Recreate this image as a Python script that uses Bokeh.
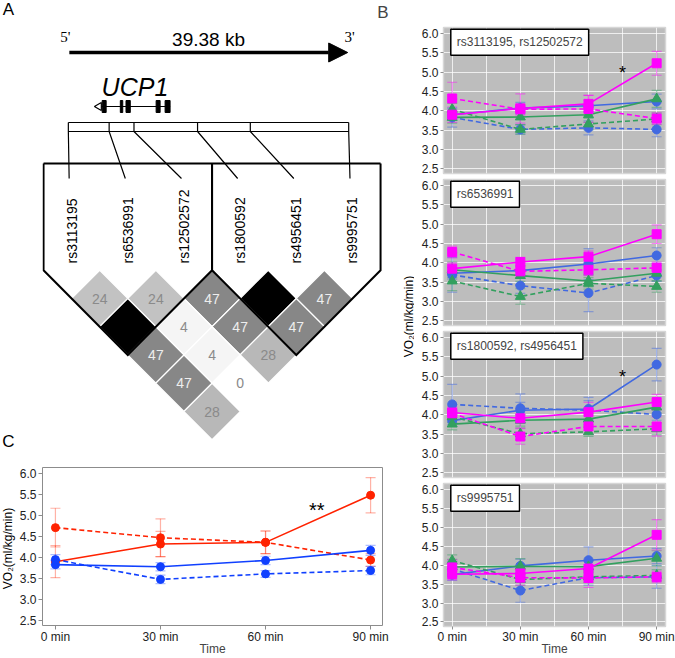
import math
from bokeh.plotting import figure
from bokeh.models import (Range1d, FixedTicker, PrintfTickFormatter, Whisker, TeeHead,
                          ColumnDataSource, Label, Arrow, NormalHead)
from bokeh.layouts import row, column
from bokeh.embed import file_html
from bokeh.resources import INLINE
from bokeh.core.properties import value

FONT = "Liberation Sans"
SERIF = "Liberation Serif"

# ---------------- data ----------------
snp_names = ["rs3113195", "rs6536991", "rs12502572", "rs1800592", "rs4956451", "rs9995751"]
snp_pos_kb = [0.0, 5.73, 9.22, 18.15, 25.56, 39.38]
region_kb = 39.38
region_label = "39.38 kb"
gene_name = "UCP1"
gene_span_kb = [4.1, 14.3]
exon_start_kb = [4.75, 7.30, 8.10, 12.33, 13.59]
exon_end_kb = [5.31, 7.64, 8.70, 12.89, 14.29]
ld_i = [0, 1, 2, 3, 4, 0, 1, 2, 3, 0, 1, 2, 0, 1, 0]
ld_j = [1, 2, 3, 4, 5, 2, 3, 4, 5, 3, 4, 5, 4, 5, 5]
ld_val = [24, 24, 47, 100, 47, 100, 4, 47, 47, 47, 4, 28, 47, 0, 28]
block_first = [0, 3]
block_last = [2, 5]

times = [0, 30, 60, 90]
time_labels = ["0 min", "30 min", "60 min", "90 min"]
vo2_ticks = [2.5, 3.0, 3.5, 4.0, 4.5, 5.0, 5.5, 6.0]

b_titles = ["rs3113195, rs12502572", "rs6536991", "rs1800592, rs4956451", "rs9995751"]
b_star = ["*", "", "*", ""]
# series order: blue solid, blue dashed, green solid, green dashed, magenta solid, magenta dashed
b1_mean = [[3.90, 4.07, 4.13, 4.24], [3.83, 3.52, 3.56, 3.52],
           [3.83, 3.84, 3.90, 4.31], [4.04, 3.52, 3.66, 3.79],
           [3.90, 4.06, 4.18, 5.23], [4.32, 4.04, 4.05, 3.80]]
b1_err = [[0.15, 0.15, 0.15, 0.19], [0.25, 0.12, 0.18, 0.19],
          [0.15, 0.20, 0.20, 0.22], [0.15, 0.12, 0.15, 0.15],
          [0.20, 0.38, 0.22, 0.31], [0.42, 0.15, 0.35, 0.15]]
b2_mean = [[3.73, 3.80, 3.97, 4.19], [3.69, 3.41, 3.22, 3.67],
           [3.82, 3.67, 3.53, 3.73], [3.53, 3.13, 3.47, 3.39],
           [3.85, 4.02, 4.16, 4.74], [4.28, 3.78, 3.82, 3.87]]
b2_err = [[0.15, 0.12, 0.40, 0.20], [0.45, 0.20, 0.48, 0.15],
          [0.20, 0.15, 0.15, 0.20], [0.25, 0.20, 0.15, 0.15],
          [0.15, 0.12, 0.15, 0.24], [0.15, 0.15, 0.15, 0.15]]
b3_mean = [[3.85, 4.12, 4.15, 5.30], [4.27, 4.17, 4.12, 4.01],
           [3.76, 3.86, 3.89, 4.20], [3.95, 3.51, 3.56, 3.64],
           [4.06, 3.91, 4.07, 4.33], [4.04, 3.44, 3.70, 3.70]]
b3_err = [[0.15, 0.20, 0.30, 0.42], [0.52, 0.37, 0.25, 0.15],
          [0.15, 0.15, 0.15, 0.15], [0.15, 0.15, 0.12, 0.15],
          [0.15, 0.25, 0.25, 0.20], [0.15, 0.20, 0.20, 0.25]]
b4_mean = [[3.75, 3.98, 4.13, 4.24], [3.90, 3.33, 3.67, 3.69],
           [3.95, 3.97, 3.96, 4.18], [4.12, 3.62, 3.69, 3.73],
           [3.76, 3.78, 3.91, 4.80], [3.94, 3.67, 3.66, 3.69]]
b4_err = [[0.15, 0.18, 0.35, 0.20], [0.20, 0.31, 0.20, 0.30],
          [0.20, 0.20, 0.15, 0.20], [0.15, 0.15, 0.15, 0.15],
          [0.15, 0.20, 0.20, 0.40], [0.20, 0.20, 0.25, 0.15]]

# panel C: red solid, red dashed, blue solid, blue dashed
c_mean = [[3.90, 4.32, 4.36, 5.48], [4.71, 4.47, 4.36, 3.94],
          [3.83, 3.78, 3.93, 4.17], [3.95, 3.48, 3.61, 3.69]]
c_err = [[0.38, 0.30, 0.27, 0.42], [0.46, 0.45, 0.27, 0.15],
         [0.10, 0.10, 0.10, 0.12], [0.12, 0.10, 0.08, 0.10]]
c_star = "**"

y_label = "VO₂(ml/kg/min)"
x_label = "Time"
panel_letters = ["A", "B", "C"]

# ---------------- styles / layout ----------------
BLUE, GREEN, MAG = "#4169e1", "#33a05f", "#ff00ff"
B_STYLES = [(BLUE, "circle", 9, "solid"), (BLUE, "circle", 9, "5 3"),
            (GREEN, "triangle", 10, "solid"), (GREEN, "triangle", 10, "5 3"),
            (MAG, "square", 9, "solid"), (MAG, "square", 9, "5 3")]
RED, CBLUE = "#ff2200", "#1040ff"
C_STYLES = [(RED, "solid"), (RED, "5 3"), (CBLUE, "solid"), (CBLUE, "5 3")]

TOTAL_W, TOTAL_H = 675, 658
GUTTER_W = 16         # panel letters A, C and panel C's y label
LEFT_W = 374          # panel A + C column
MID_W = 24            # shared y label of panel B
RIGHT_W = TOTAL_W - GUTTER_W - LEFT_W - MID_W
A_H = 452
A_TOP = 21
C_TOP, C_BOTTOM = 15, 29
C_BORDER_L, C_BORDER_R = 24, 8
FRAME_L = GUTTER_W + C_BORDER_L                 # frames of A and C are aligned
FRAME_R = GUTTER_W + LEFT_W - C_BORDER_R
XLABEL_STANDOFF = -5


def tidy_axis(ax, tick_color, tick_out):
    ax.axis_line_color = None
    ax.major_tick_line_color = tick_color
    ax.major_tick_out = tick_out
    ax.major_tick_in = 0
    ax.minor_tick_line_color = None
    ax.major_label_standoff = 2
    ax.major_label_text_font = FONT
    ax.major_label_text_font_size = "12px"
    ax.major_label_text_color = "#222222"
    ax.axis_label_text_font = FONT
    ax.axis_label_text_font_size = "12px"
    ax.axis_label_text_font_style = "normal"


def blank(p):
    p.xgrid.grid_line_color = None
    p.ygrid.grid_line_color = None
    p.outline_line_color = None


# ---------------- gutter: letters A, C and panel C y label ----------------
pg = figure(width=GUTTER_W, height=TOTAL_H, x_range=Range1d(0, GUTTER_W), y_range=Range1d(TOTAL_H, 0),
            output_backend="svg", toolbar_location=None, min_border=0,
            x_axis_location=None, y_axis_location=None)
blank(pg)
pg.text(x=[8, 8], y=[8.5, 441], text=[panel_letters[0], panel_letters[2]], text_font=value(FONT),
        text_font_size="17px", text_align="center", text_baseline="middle")
c_frame_mid = A_H + C_TOP + (TOTAL_H - A_H - C_TOP - C_BOTTOM) / 2
pg.text(x=[7], y=[c_frame_mid], text=[y_label], angle=math.pi / 2, text_font=value(FONT),
        text_font_size="12px", text_align="center", text_baseline="middle")

# ---------------- panel A (pixel-unit canvas) ----------------
pa = figure(width=LEFT_W, height=A_H, x_range=Range1d(FRAME_L, FRAME_R), y_range=Range1d(A_H, A_TOP),
            output_backend="svg", toolbar_location=None, min_border=0, min_border_top=A_TOP,
            x_axis_location=None, y_axis_location=None, title=panel_letters[1])
blank(pa)
pa.title.align = "right"
pa.title.offset = -6
pa.title.standoff = 0
pa.title.text_font = FONT
pa.title.text_font_size = "17px"
pa.title.text_font_style = "normal"

REG_X0, REG_X1 = 66.0, 348.0
def kb2px(kb):
    return REG_X0 + kb / region_kb * (REG_X1 - REG_X0)

SNP_X0, SNP_DX = 69.3, 56.5
snp_x = [SNP_X0 + SNP_DX * k for k in range(len(snp_names))]
ROW0_Y = 298.0
ROW_DY = SNP_DX / 2
BOX_TOP = 163.0

pa.add_layout(Arrow(x_start=kb2px(0) + 1, y_start=52, x_end=kb2px(region_kb) - 1, y_end=52,
                    line_width=3.5, line_color="black",
                    end=NormalHead(size=19, fill_color="black", line_color="black")))
pa.text(x=[(kb2px(0) + kb2px(region_kb)) / 2], y=[38.5], text=[region_label],
        text_font=value(FONT), text_font_size="19px", text_align="center", text_baseline="middle")
pa.text(x=[kb2px(0) - 3, kb2px(region_kb) + 1], y=[36.5, 36.5], text=["5'", "3'"],
        text_font=value(SERIF), text_font_size="15px", text_align="center", text_baseline="middle")

pa.text(x=[133], y=[86], text=[gene_name], text_font=value(FONT), text_font_size="25px",
        text_font_style="italic", text_align="center", text_baseline="middle")
pa.line(x=[kb2px(gene_span_kb[0]), kb2px(gene_span_kb[1])], y=[106, 106], line_color="black", line_width=1.2)
pa.quad(left=[kb2px(s) for s in exon_start_kb], right=[kb2px(e) for e in exon_end_kb],
        top=[100] * len(exon_start_kb), bottom=[112] * len(exon_start_kb),
        fill_color="black", line_color="black")
pa.scatter(x=[kb2px(gene_span_kb[0]) + 1.5], y=[106], marker="triangle", size=8, angle=math.pi / 2,
           fill_color="white", line_color="black", line_width=1.2)

pa.line(x=[REG_X0, REG_X1], y=[122, 122], line_color="black", line_width=1.2)
pa.line(x=[REG_X0, REG_X1], y=[131, 131], line_color="black", line_width=1.2)
pa.multi_line(xs=[[kb2px(p), kb2px(p), sx - 2.5] for p, sx in zip(snp_pos_kb, snp_x)],
              ys=[[122, 131, 178] for _ in snp_x], line_color="black", line_width=1.2)

pa.text(x=snp_x, y=[263] * len(snp_x), text=snp_names, angle=math.pi / 2,
        text_font=value(FONT), text_font_size="14px", text_align="left", text_baseline="middle")


def ld_color(v):
    g = int(round(255 * (1 - v / 100.0)))
    return "#%02x%02x%02x" % (g, g, g)


cx = [(snp_x[i] + snp_x[j]) / 2 for i, j in zip(ld_i, ld_j)]
cy = [ROW0_Y + (j - i - 1) * ROW_DY for i, j in zip(ld_i, ld_j)]
pa.scatter(x=cx, y=cy, marker="square", size=SNP_DX / math.sqrt(2), angle=math.pi / 4,
           fill_color=[ld_color(v) for v in ld_val], line_color="white", line_width=1.2)
lab_idx = [k for k, v in enumerate(ld_val) if v < 100]
pa.text(x=[cx[k] for k in lab_idx], y=[cy[k] for k in lab_idx], text=[str(ld_val[k]) for k in lab_idx],
        text_color=["#eeeeee" if ld_val[k] >= 40 else "#8a8a8a" for k in lab_idx],
        text_font=value(FONT), text_font_size="14px", text_align="center", text_baseline="middle")

yb = ROW0_Y - ROW_DY
pa.line(x=[snp_x[0] - SNP_DX / 2, snp_x[-1] + SNP_DX / 2], y=[BOX_TOP, BOX_TOP], line_color="black", line_width=2)
bxs, bys = [], []
for a, b in zip(block_first, block_last):
    xl = snp_x[a] - SNP_DX / 2
    xr = snp_x[b] + SNP_DX / 2
    xm = (xl + xr) / 2
    bxs.append([xl, xl, xm, xr, xr])
    bys.append([BOX_TOP, yb, yb + (xr - xl) / 2, yb, BOX_TOP])
pa.multi_line(xs=bxs, ys=bys, line_color="black", line_width=2, line_join="miter")

# ---------------- shared y label of panel B ----------------
x_mid0 = GUTTER_W + LEFT_W
pm = figure(width=MID_W, height=TOTAL_H, x_range=Range1d(x_mid0, x_mid0 + MID_W), y_range=Range1d(TOTAL_H, 0),
            output_backend="svg", toolbar_location=None, min_border=0,
            x_axis_location=None, y_axis_location=None)
blank(pm)
pm.text(x=[408], y=[316], text=[y_label], angle=math.pi / 2, text_font=value(FONT),
        text_font_size="12px", text_align="center", text_baseline="middle")

# ---------------- panel B ----------------
BX = (-3.83, 93.9)
BY = (2.38, 6.155)
b_means = [b1_mean, b2_mean, b3_mean, b4_mean]
b_errs = [b1_err, b2_err, b3_err, b4_err]
b_heights = [176, 152, 152, 178]
b_tops = [27, 3, 3, 3]
b_bottoms = [3, 3, 3, 29]

b_figs = []
for k in range(4):
    last = (k == 3)
    p = figure(width=RIGHT_W, height=b_heights[k], x_range=Range1d(*BX), y_range=Range1d(*BY),
               output_backend="svg", toolbar_location=None,
               x_axis_location="below" if last else None,
               min_border_left=29, min_border_right=10,
               min_border_top=b_tops[k], min_border_bottom=b_bottoms[k])
    p.background_fill_color = "#bdbdbd"
    p.outline_line_color = "#d6d6d6"
    p.outline_line_width = 1.5
    p.xgrid.ticker = FixedTicker(ticks=[0, 15, 30, 45, 60, 75, 90])
    p.ygrid.ticker = FixedTicker(ticks=vo2_ticks)
    p.xgrid.grid_line_color = "white"
    p.ygrid.grid_line_color = "white"
    p.xgrid.grid_line_alpha = 0.75
    p.ygrid.grid_line_alpha = 0.75
    ya = p.yaxis[0]
    ya.ticker = FixedTicker(ticks=vo2_ticks)
    ya.formatter = PrintfTickFormatter(format="%.1f")
    tidy_axis(ya, "#909090", 3)
    if last:
        xa = p.xaxis[0]
        xa.ticker = FixedTicker(ticks=times)
        xa.major_label_overrides = {t: l for t, l in zip(times, time_labels)}
        tidy_axis(xa, "#909090", 3)
        xa.major_label_standoff = 0
        xa.axis_label = x_label
        xa.axis_label_standoff = XLABEL_STANDOFF
    for means, errs, (color, marker, size, dash) in zip(b_means[k], b_errs[k], B_STYLES):
        src = ColumnDataSource(dict(x=times, y=means,
                                    upper=[m + e for m, e in zip(means, errs)],
                                    lower=[m - e for m, e in zip(means, errs)]))
        p.add_layout(Whisker(source=src, base="x", upper="upper", lower="lower",
                             line_color=color, line_alpha=0.45, line_width=1.2,
                             upper_head=TeeHead(size=10, line_color=color, line_alpha=0.45, line_width=1.2),
                             lower_head=TeeHead(size=10, line_color=color, line_alpha=0.45, line_width=1.2)))
        p.line("x", "y", source=src, line_color=color, line_width=1.6, line_dash=dash)
        p.scatter("x", "y", source=src, marker=marker, size=size, fill_color=color, line_color=color)
    if b_star[k]:
        p.text(x=[75], y=[4.98], text=[b_star[k]], text_font=value(FONT), text_font_size="18px",
               text_align="center", text_baseline="middle")
    p.add_layout(Label(x=-0.62, y=6.11, text=b_titles[k], text_font=FONT, text_font_size="12px",
                       text_align="left", text_baseline="top", padding=6,
                       background_fill_color="white", border_line_color="black", border_line_width=1.5))
    b_figs.append(p)

# ---------------- panel C ----------------
C_H = TOTAL_H - A_H
pc = figure(width=LEFT_W, height=C_H, x_range=Range1d(-3.69, 93.4), y_range=Range1d(2.384, 6.139),
            output_backend="svg", toolbar_location=None,
            min_border_left=C_BORDER_L, min_border_right=C_BORDER_R, min_border_top=C_TOP, min_border_bottom=C_BOTTOM)
pc.xgrid.grid_line_color = None
pc.ygrid.grid_line_color = None
pc.outline_line_color = "#8c8c8c"
pc.outline_line_width = 1
for ax in (pc.xaxis[0], pc.yaxis[0]):
    tidy_axis(ax, "#8c8c8c", 4)
pc.xaxis[0].ticker = FixedTicker(ticks=times)
pc.xaxis[0].major_label_overrides = {t: l for t, l in zip(times, time_labels)}
pc.xaxis[0].axis_label = x_label
pc.xaxis[0].major_label_standoff = 0
pc.xaxis[0].axis_label_standoff = XLABEL_STANDOFF
pc.yaxis[0].ticker = FixedTicker(ticks=vo2_ticks)
pc.yaxis[0].formatter = PrintfTickFormatter(format="%.1f")

for means, errs, (color, dash) in zip(c_mean, c_err, C_STYLES):
    src = ColumnDataSource(dict(x=times, y=means,
                                upper=[m + e for m, e in zip(means, errs)],
                                lower=[m - e for m, e in zip(means, errs)]))
    pc.add_layout(Whisker(source=src, base="x", upper="upper", lower="lower",
                          line_color=color, line_alpha=0.35, line_width=1.2,
                          upper_head=TeeHead(size=10, line_color=color, line_alpha=0.35, line_width=1.2),
                          lower_head=TeeHead(size=10, line_color=color, line_alpha=0.35, line_width=1.2)))
    pc.line("x", "y", source=src, line_color=color, line_width=1.6, line_dash=dash)
    pc.scatter("x", "y", source=src, marker="circle", size=8, fill_color=color, line_color=color)
pc.text(x=[74.6], y=[5.12], text=[c_star], text_font=value(FONT), text_font_size="20px",
        text_align="center", text_baseline="middle")

layout = row(pg, column(pa, pc), pm, column(*b_figs))
open("out.html", "w").write(file_html(layout, INLINE))
